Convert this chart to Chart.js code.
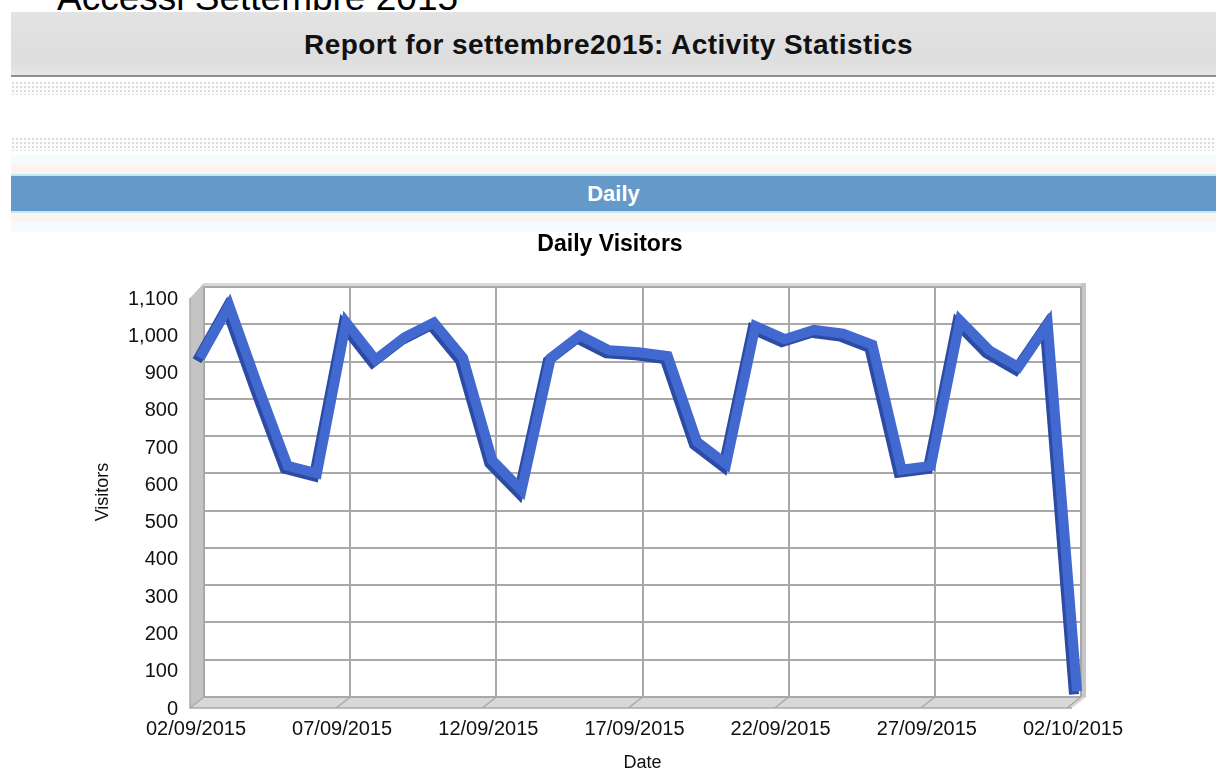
<!DOCTYPE html>
<html>
<head>
<meta charset="utf-8">
<script src="https://cdn.jsdelivr.net/npm/chart.js@4.4.1/dist/chart.umd.min.js"></script>
<style>
  html, body { margin: 0; padding: 0; background: #fff; overflow: hidden; }
  body { width: 1216px; height: 771px; position: relative; font-family: "Liberation Sans", Arial, sans-serif; }
  .pageTitle { position: absolute; left: 57px; top: -21px; font-size: 37px; line-height: 37px; color: #000; white-space: nowrap; }
  .reportBar { position: absolute; left: 11px; top: 12px; width: 1195px; height: 63px; padding-right: 10px;
    background: linear-gradient(#e3e3e3 0%, #dedede 75%, #e6e6e6 100%);
    border-bottom: 2px solid #8e8e8e; text-align: center; line-height: 65px;
    font-weight: bold; font-size: 28px; letter-spacing: 0.45px; color: #111; }
  .dots { position: absolute; left: 11px; width: 1205px; height: 14px; background-color: #fcfcfc;
    background-image: radial-gradient(circle, #dedede 0.8px, transparent 1.1px);
    background-size: 4px 4px; }
  .faint { position: absolute; left: 11px; width: 1205px; }
  .dailyBar { position: absolute; left: 11px; top: 174px; width: 1205px; height: 35px;
    background: #6599c9; border-top: 2px solid #c3e9f3; border-bottom: 2px solid #c3e9f3;
    color: #fff; font-weight: bold; font-size: 22px; text-align: center; line-height: 35px; }
  #wrap { position: absolute; left: 81px; top: 225px; width: 1058px; height: 555px; }
</style>
</head>
<body>
<div class="pageTitle">Accessi Settembre 2015</div>
<div class="reportBar">Report for settembre2015: Activity Statistics</div>
<div class="dots" style="top:81px"></div>
<div class="dots" style="top:137px"></div>
<div class="faint" style="top:155px;height:8px;background:#f5fcfe"></div>
<div class="faint" style="top:163px;height:11px;background:#fdf4f0"></div>
<div class="dailyBar">Daily</div>
<div class="faint" style="top:213px;height:9px;background:#fdf4f0"></div>
<div class="faint" style="top:222px;height:10px;background:#f5fcfe"></div>
<div id="wrap"><canvas id="myChart"></canvas></div>
<script>
var dates = ['02/09/2015', '03/09/2015', '04/09/2015', '05/09/2015', '06/09/2015',
             '07/09/2015', '08/09/2015', '09/09/2015', '10/09/2015', '11/09/2015',
             '12/09/2015', '13/09/2015', '14/09/2015', '15/09/2015', '16/09/2015',
             '17/09/2015', '18/09/2015', '19/09/2015', '20/09/2015', '21/09/2015',
             '22/09/2015', '23/09/2015', '24/09/2015', '25/09/2015', '26/09/2015',
             '27/09/2015', '28/09/2015', '29/09/2015', '30/09/2015', '01/10/2015',
             '02/10/2015'];
var visitors = [910, 1050, 830, 620, 600,
                1005, 905, 965, 1005, 910,
                635, 555, 910, 970, 930,
                925, 915, 685, 625, 995,
                960, 985, 975, 945, 610,
                620, 1010, 930, 885, 1000,
                15];
var yTicks = { min: 0, max: 1100, step: 100 };

// gray walls and floor drawn around the plot area to fake the 3D look
var frame3d = {
    id: 'frame3d',
    beforeDraw: function (chart) {
        var ctx = chart.ctx, a = chart.chartArea, x = chart.scales.x;
        var dx = -14, dy = 11;
        ctx.save();
        // top rim and right wall
        ctx.fillStyle = '#d9d9d9';
        ctx.fillRect(a.left, a.top - 4, a.right - a.left + 4, 4);
        ctx.fillStyle = '#c6c6c6';
        ctx.fillRect(a.right, a.top - 4, 5, a.bottom - a.top + 4);
        // left wall
        ctx.fillStyle = '#c4c4c4';
        ctx.beginPath();
        ctx.moveTo(a.left + dx, a.top + dy);
        ctx.lineTo(a.left, a.top - 4);
        ctx.lineTo(a.left, a.bottom);
        ctx.lineTo(a.left + dx, a.bottom + dy);
        ctx.closePath();
        ctx.fill();
        // floor
        ctx.fillStyle = '#d8d8d8';
        ctx.beginPath();
        ctx.moveTo(a.left + dx, a.bottom + dy);
        ctx.lineTo(a.left, a.bottom);
        ctx.lineTo(a.right + 5, a.bottom);
        ctx.lineTo(a.right + 5 + dx, a.bottom + dy);
        ctx.closePath();
        ctx.fill();
        ctx.strokeStyle = '#a9a9a9';
        ctx.lineWidth = 1.5;
        ctx.beginPath();
        ctx.moveTo(a.left + dx, a.top + dy);
        ctx.lineTo(a.left + dx, a.bottom + dy);
        ctx.lineTo(a.right + 5 + dx, a.bottom + dy);
        ctx.stroke();
        // grid lines folding onto the floor
        for (var i = 0; i < dates.length; i += 5) {
            var px = x.getPixelForValue(i);
            ctx.beginPath();
            ctx.moveTo(px, a.bottom);
            ctx.lineTo(px + dx, a.bottom + dy);
            ctx.stroke();
        }
        ctx.restore();
    },
    // the ribbon sits a little in front of the back wall, with a dark side face
    beforeDatasetsDraw: function (chart) {
        var ctx = chart.ctx;
        ctx.save();
        ctx.translate(-4, 0);
        ctx.shadowColor = '#2c4ba5';
        ctx.shadowOffsetX = -3;
        ctx.shadowOffsetY = 3;
        ctx.shadowBlur = 0;
    },
    afterDatasetsDraw: function (chart) {
        chart.ctx.restore();
    }
};

var ctx = document.getElementById('myChart');
var myChart = new Chart(ctx, {
    type: 'line',
    data: {
        labels: dates,
        datasets: [{
            label: 'Visitors',
            data: visitors,
            borderColor: '#4169d0',
            borderWidth: 10,
            borderJoinStyle: 'miter',
            pointRadius: 0,
            tension: 0,
            fill: false,
            clip: 12
        }]
    },
    options: {
        responsive: true,
        maintainAspectRatio: false,
        animation: false,
        plugins: {
            legend: { display: false },
            tooltip: { enabled: false },
            title: {
                display: true,
                text: 'Daily Visitors',
                color: '#000',
                font: { family: 'Liberation Sans', size: 23, weight: 'bold' },
                padding: { top: 6, bottom: 28.4 }
            }
        },
        scales: {
            x: {
                type: 'category',
                offset: false,
                afterFit: function (scale) {
                    scale.height = 83;
                    scale.paddingLeft = 0;
                    scale.paddingRight = 0;
                },
                grid: { color: '#a8a8a8', lineWidth: 2, drawTicks: false },
                border: { display: false },
                ticks: {
                    autoSkip: false,
                    maxRotation: 0,
                    padding: 20,
                    labelOffset: -8,
                    color: '#111',
                    font: { family: 'Liberation Sans', size: 20 },
                    callback: function (v, i) { return i % 5 === 0 ? dates[i] : null; }
                },
                title: {
                    display: true,
                    text: 'Date',
                    color: '#111',
                    font: { family: 'Liberation Sans', size: 18 },
                    padding: { top: 0, bottom: 6 }
                }
            },
            y: {
                min: yTicks.min,
                max: yTicks.max,
                afterFit: function (scale) { scale.width = 123; },
                grid: { color: '#a8a8a8', lineWidth: 2, drawTicks: false },
                border: { display: false },
                ticks: {
                    stepSize: yTicks.step,
                    padding: 26,
                    labelOffset: 12,
                    color: '#111',
                    font: { family: 'Liberation Sans', size: 20 },
                    callback: function (v) { return v.toLocaleString('en-US'); }
                },
                title: {
                    display: true,
                    text: 'Visitors',
                    color: '#111',
                    font: { family: 'Liberation Sans', size: 18 },
                    padding: { top: 11, bottom: 0 }
                }
            },
            // empty right-hand axis only reserves the gap on the right
            yRight: {
                position: 'right',
                min: yTicks.min,
                max: yTicks.max,
                afterFit: function (scale) { scale.width = 58; },
                grid: { display: false, drawOnChartArea: false },
                border: { display: false },
                ticks: { display: false }
            }
        }
    },
    plugins: [frame3d]
});
</script>
</body>
</html>
